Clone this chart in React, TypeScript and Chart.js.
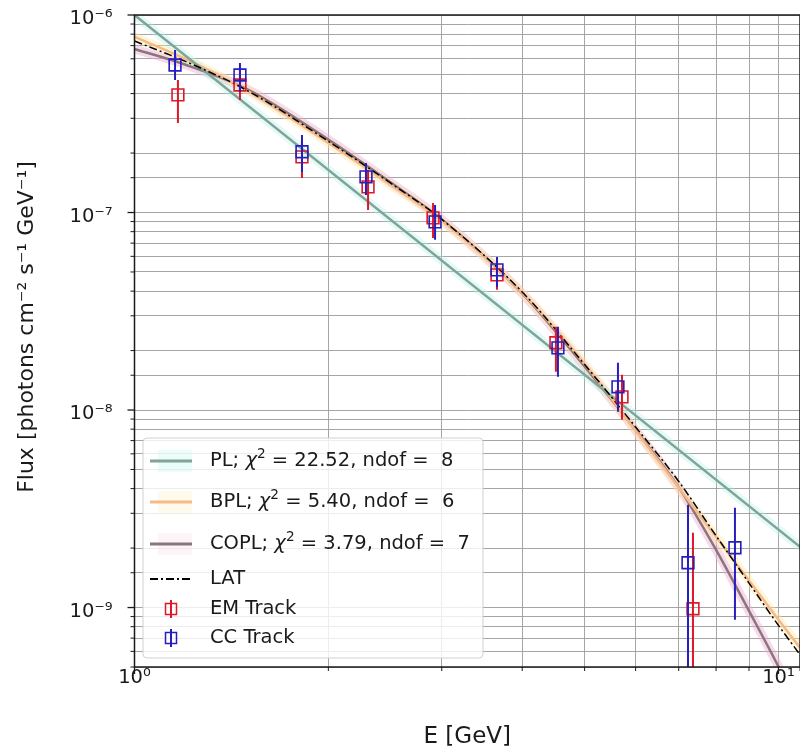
import React, { useEffect, useRef } from "react";
import { Chart, registerables } from "chart.js";

Chart.register(...registerables);

// ---- data ----
// CC Track (blue)
const ccEnergy = [1.156, 1.458, 1.82, 2.288, 2.929, 3.655, 4.545, 5.633, 7.236, 8.559];
const ccFlux = [5.58e-7, 4.97e-7, 2.03e-7, 1.514e-7, 8.97e-8, 5.12e-8, 2.065e-8, 1.311e-8, 1.685e-9, 2.007e-9];
const ccFluxLow = [4.69e-7, 4.08e-7, 1.605e-7, 1.228e-7, 7.27e-8, 4.2e-8, 1.472e-8, 9.79e-9, 3e-10, 8.68e-10];
const ccFluxHigh = [6.65e-7, 5.71e-7, 2.47e-7, 1.782e-7, 1.093e-7, 5.96e-8, 2.64e-8, 1.733e-8, 3.31e-9, 3.2e-9];

// EM Track (red)
const emEnergy = [1.168, 1.458, 1.82, 2.305, 2.908, 3.655, 4.512, 5.715, 7.366];
const emFlux = [3.94e-7, 4.42e-7, 1.912e-7, 1.348e-7, 9.39e-8, 4.83e-8, 2.19e-8, 1.166e-8, 9.86e-10];
const emFluxLow = [2.84e-7, 3.71e-7, 1.496e-7, 1.031e-7, 7.44e-8, 4.06e-8, 1.561e-8, 8.92e-9, 3e-10];
const emFluxHigh = [4.69e-7, 5.27e-7, 2.33e-7, 1.643e-7, 1.118e-7, 5.75e-8, 2.64e-8, 1.507e-8, 2.39e-9];

// model curves
const curveEnergy = [1, 1.2, 1.5, 2, 2.5, 3, 4, 5, 6, 7, 8, 9, 10, 10.8];
const latFlux = [7.38e-7, 5.82e-7, 4.13e-7, 2.295e-7, 1.407e-7, 9.23e-8, 3.96e-8, 1.7e-8, 8.21e-9, 4.35e-9, 2.31e-9, 1.33e-9, 8.12e-10, 5.77e-10];
const coplFlux = [6.73e-7, 5.6e-7, 4.19e-7, 2.34e-7, 1.418e-7, 9.22e-8, 3.9e-8, 1.66e-8, 7.91e-9, 4.06e-9, 1.96e-9, 9.62e-10, 5.02e-10, 3.0e-10];
const bplFlux = [7.74e-7, 5.99e-7, 4.12e-7, 2.25e-7, 1.379e-7, 9.07e-8, 3.92e-8, 1.71e-8, 7.85e-9, 4.04e-9, 2.28e-9, 1.37e-9, 8.68e-10, 6.26e-10];
const plEnergy = [1, 10.8];
const plFlux = [1.0e-6, 2.03e-9];

// axis ranges and labels
const xMin = 1;
const xMax = 10.8;
const yMin = 5e-10;
const yMax = 1e-6;
const xTitle = "E [GeV]";
const yTitle = "Flux [photons cm⁻² s⁻¹ GeV⁻¹]";
const plLabel = "PL; χ² = 22.52, ndof =  8";
const bplLabel = "BPL; χ² = 5.40, ndof =  6";
const coplLabel = "COPL; χ² = 3.79, ndof =  7";
const latLabel = "LAT";
const emLabel = "EM Track";
const ccLabel = "CC Track";

const FONT = '"DejaVu Sans", "Liberation Sans", sans-serif';
const SUP: Record<string, string> = { "-": "⁻", "0": "⁰", "1": "¹", "2": "²", "3": "³", "4": "⁴", "5": "⁵", "6": "⁶", "7": "⁷", "8": "⁸", "9": "⁹" };

const pts = (xs: number[], ys: number[]) => xs.map((x, i) => ({ x, y: ys[i] }));
const isDecade = (v: number) => {
  const e = Math.log10(v);
  return Math.abs(e - Math.round(e)) < 1e-6;
};
const decadeLabel = (v: number) => {
  if (!isDecade(v)) return "";
  const e = String(Math.round(Math.log10(v)));
  return "10" + e.split("").map((c) => SUP[c]).join("");
};

const errorBarPlugin = {
  id: "errorBars",
  beforeDatasetDraw(chart: any, args: any) {
    const ds = chart.data.datasets[args.index];
    if (!ds.errLow) return;
    const { ctx, chartArea: a, scales } = chart;
    ctx.save();
    ctx.beginPath();
    ctx.rect(a.left, a.top, a.right - a.left, a.bottom - a.top);
    ctx.clip();
    ctx.strokeStyle = ds.borderColor;
    ctx.lineWidth = 2;
    ds.data.forEach((p: any, i: number) => {
      const px = scales.x.getPixelForValue(p.x);
      ctx.beginPath();
      ctx.moveTo(px, scales.y.getPixelForValue(ds.errHigh[i]));
      ctx.lineTo(px, scales.y.getPixelForValue(ds.errLow[i]));
      ctx.stroke();
    });
    ctx.restore();
  },
};

const framePlugin = {
  id: "frame",
  afterDraw(chart: any) {
    const { ctx, chartArea: a, scales } = chart;
    ctx.save();
    ctx.strokeStyle = "#1a1a1a";
    scales.y.ticks.forEach((t: any) => {
      const py = scales.y.getPixelForValue(t.value);
      const major = isDecade(t.value);
      ctx.lineWidth = major ? 1.3 : 1;
      ctx.beginPath();
      ctx.moveTo(a.left - (major ? 7 : 4), py);
      ctx.lineTo(a.left, py);
      ctx.stroke();
    });
    scales.x.ticks.forEach((t: any) => {
      const px = scales.x.getPixelForValue(t.value);
      const major = isDecade(t.value);
      ctx.lineWidth = major ? 1.3 : 1;
      ctx.beginPath();
      ctx.moveTo(px, a.bottom);
      ctx.lineTo(px, a.bottom + (major ? 7 : 4));
      ctx.stroke();
    });
    ctx.lineWidth = 1.5;
    ctx.strokeRect(a.left, a.top, a.right - a.left, a.bottom - a.top);
    ctx.restore();
  },
};

function drawLabel(ctx: CanvasRenderingContext2D, text: string, x: number, y: number, size: number) {
  const normal = `${size}px ${FONT}`;
  ctx.font = normal;
  const idx = text.indexOf("χ²");
  if (idx < 0) {
    ctx.fillText(text, x, y);
    return;
  }
  const before = text.slice(0, idx);
  const after = text.slice(idx + 2);
  ctx.fillText(before, x, y);
  x += ctx.measureText(before).width;
  ctx.font = `italic ${size}px ${FONT}`;
  ctx.fillText("χ", x, y);
  x += ctx.measureText("χ").width;
  ctx.font = `${size * 0.7}px ${FONT}`;
  ctx.fillText("2", x, y - size * 0.36);
  x += ctx.measureText("2").width;
  ctx.font = normal;
  ctx.fillText(after, x, y);
}

const legendPlugin = {
  id: "mplLegend",
  afterDraw(chart: any) {
    const { ctx, chartArea: a } = chart;
    const entries = chart.data.datasets.filter((d: any) => d.legendKind);
    const rowOffsets = [23, 64, 106, 141, 171, 200];
    const bx = a.left + 8.5;
    const bw = 340;
    const bh = 220;
    const by = a.bottom - 9 - bh;
    ctx.save();
    ctx.beginPath();
    (ctx as any).roundRect(bx, by, bw, bh, 4);
    ctx.fillStyle = "rgba(255,255,255,0.8)";
    ctx.fill();
    ctx.strokeStyle = "rgba(204,204,204,0.9)";
    ctx.lineWidth = 1;
    ctx.stroke();
    entries.forEach((d: any, i: number) => {
      const ry = by + rowOffsets[i];
      const x0 = bx + 7;
      const x1 = bx + 49;
      if (d.legendKind === "fit") {
        ctx.fillStyle = d.legendPatch;
        ctx.fillRect(x0 + 8, ry - 11, x1 - x0 - 8, 22);
        ctx.strokeStyle = d.borderColor;
        ctx.lineWidth = 3;
        ctx.setLineDash([]);
        ctx.beginPath();
        ctx.moveTo(x0, ry);
        ctx.lineTo(x1, ry);
        ctx.stroke();
      } else if (d.legendKind === "dash") {
        ctx.strokeStyle = d.borderColor;
        ctx.lineWidth = 2;
        ctx.setLineDash(d.borderDash);
        ctx.beginPath();
        ctx.moveTo(x0, ry);
        ctx.lineTo(x1, ry);
        ctx.stroke();
        ctx.setLineDash([]);
      } else {
        const cx = (x0 + x1) / 2;
        ctx.strokeStyle = d.borderColor;
        ctx.lineWidth = 2;
        ctx.beginPath();
        ctx.moveTo(cx, ry - 9);
        ctx.lineTo(cx, ry + 9);
        ctx.stroke();
        ctx.lineWidth = 1.5;
        ctx.strokeRect(cx - 5.5, ry - 5.5, 11, 11);
      }
      ctx.fillStyle = "#1a1a1a";
      ctx.textBaseline = "middle";
      ctx.textAlign = "left";
      drawLabel(ctx, d.label, bx + 67, ry, 19.5);
    });
    ctx.restore();
  },
};

export default function App() {
  const ref = useRef<HTMLCanvasElement | null>(null);

  useEffect(() => {
    document.body.style.margin = "0";
    if (!ref.current) return;
    const gridColor = "rgba(155,155,155,0.9)";
    const tickFont = { family: FONT, size: 19.5 };
    const titleFont = { family: FONT, size: 22 };
    const plColor = "#82a496";
    const bplColor = "#f6b98a";
    const coplColor = "#8a7676";
    const plBand = "rgba(175,240,235,0.35)";
    const bplBand = "rgba(255,230,160,0.4)";
    const coplBand = "rgba(235,170,215,0.45)";
    const curve = (data: any, color: string, width: number, order: number) => ({
      data,
      showLine: true,
      borderColor: color,
      backgroundColor: color,
      borderWidth: width,
      pointRadius: 0,
      cubicInterpolationMode: "monotone",
      order,
    });

    const chart = new Chart(ref.current, {
      type: "scatter",
      data: {
        datasets: [
          { ...curve(pts(plEnergy, plFlux), plColor, 2.5, 7), label: plLabel, legendKind: "fit", legendPatch: "rgba(200,245,242,0.35)" },
          { ...curve(pts(curveEnergy, bplFlux), bplColor, 2.5, 7), label: bplLabel, legendKind: "fit", legendPatch: "rgba(255,240,200,0.35)" },
          { ...curve(pts(curveEnergy, coplFlux), coplColor, 2.5, 7), label: coplLabel, legendKind: "fit", legendPatch: "rgba(252,220,232,0.35)" },
          { ...curve(pts(curveEnergy, latFlux), "#000000", 1.5, 5), label: latLabel, legendKind: "dash", borderDash: [8, 3, 2, 3] },
          {
            label: emLabel,
            legendKind: "err",
            data: pts(emEnergy, emFlux),
            errLow: emFluxLow,
            errHigh: emFluxHigh,
            borderColor: "rgb(222,24,40)",
            backgroundColor: "rgba(0,0,0,0)",
            pointStyle: "rect",
            pointRadius: 8.3,
            pointBorderWidth: 1.6,
            order: 2,
          },
          {
            label: ccLabel,
            legendKind: "err",
            data: pts(ccEnergy, ccFlux),
            errLow: ccFluxLow,
            errHigh: ccFluxHigh,
            borderColor: "rgb(38,30,190)",
            backgroundColor: "rgba(0,0,0,0)",
            pointStyle: "rect",
            pointRadius: 8.3,
            pointBorderWidth: 1.6,
            order: 1,
          },
          { ...curve(pts(plEnergy, plFlux), plBand, 9, 10) },
          { ...curve(pts(curveEnergy, bplFlux), bplBand, 9, 10) },
          { ...curve(pts(curveEnergy, coplFlux), coplBand, 9, 10) },
        ] as any,
      },
      options: {
        responsive: false,
        animation: false,
        layout: { autoPadding: false, padding: { top: 15, right: 0, bottom: 0, left: 0 } },
        plugins: { legend: { display: false }, tooltip: { enabled: false } },
        scales: {
          x: {
            type: "logarithmic",
            min: xMin,
            max: xMax,
            position: "bottom",
            grid: { color: gridColor, lineWidth: 1, drawTicks: false },
            border: { display: false },
            ticks: { autoSkip: false, maxRotation: 0, padding: -1, font: tickFont, color: "#1a1a1a", callback: (v: any) => decadeLabel(Number(v)) },
            title: { display: true, text: xTitle, font: { family: FONT, size: 23 }, color: "#1a1a1a", padding: { top: 0, bottom: 2 } },
            afterFit: (s: any) => {
              s.height = 86;
              s.paddingRight = 0;
            },
          },
          y: {
            type: "logarithmic",
            min: yMin,
            max: yMax,
            grid: { color: gridColor, lineWidth: 1, drawTicks: false },
            border: { display: false },
            ticks: { autoSkip: false, padding: 22, labelOffset: 4, font: tickFont, color: "#1a1a1a", callback: (v: any) => decadeLabel(Number(v)) },
            title: { display: true, text: "    " + yTitle, font: titleFont, color: "#1a1a1a", padding: { top: 14, bottom: 0 } },
            afterFit: (s: any) => {
              s.width = 134.5;
              s.paddingTop = 0;
            },
          },
        },
      } as any,
      plugins: [errorBarPlugin, framePlugin, legendPlugin],
    });
    return () => chart.destroy();
  }, []);

  return <canvas ref={ref} width={800} height={753} style={{ display: "block" }} />;
}
